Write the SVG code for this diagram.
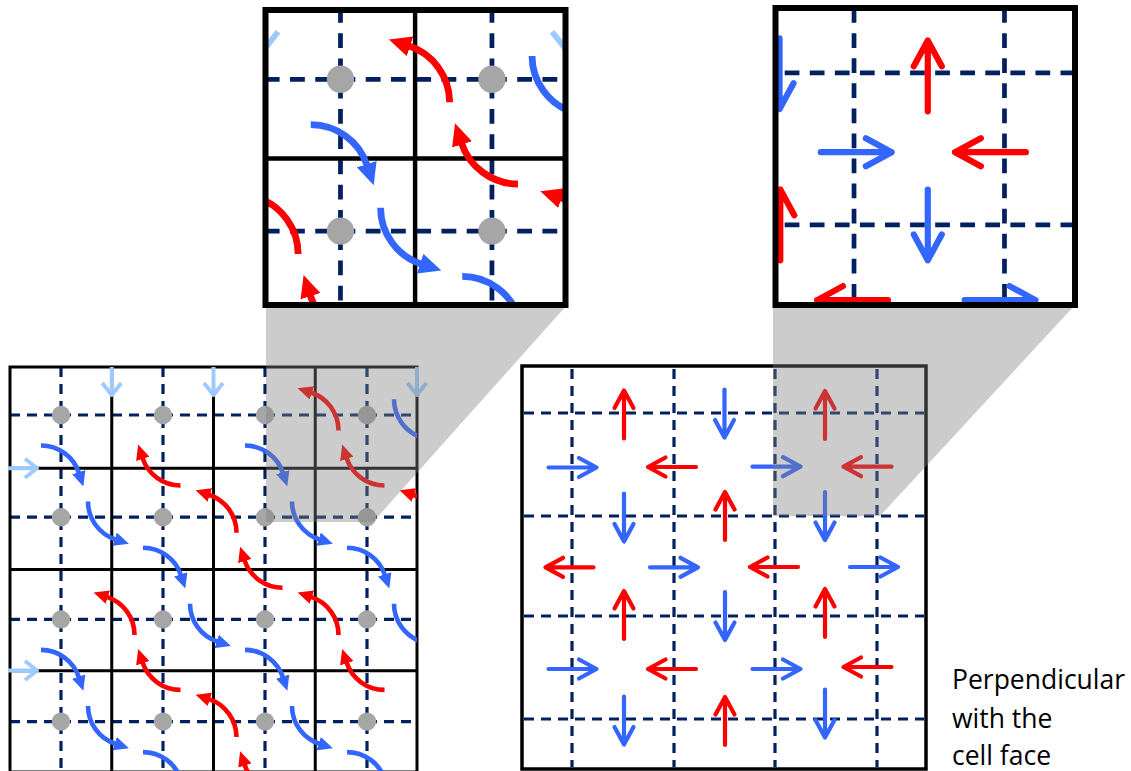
<svg xmlns="http://www.w3.org/2000/svg" xmlns:xlink="http://www.w3.org/1999/xlink" width="1131" height="771" viewBox="0 0 1131 771">
<style>
.solid{stroke:#000;stroke-width:3;fill:none}
.dash{stroke:#002060;stroke-width:3.2;stroke-dasharray:10 7;fill:none}
.rdash{stroke:#002060;stroke-width:3.2;stroke-dasharray:10 7;fill:none}
.dot{fill:#A6A6A6}
.arcB{fill:none;stroke:#3366FF;stroke-width:4.6;marker-end:url(#hb)}
.arcR{fill:none;stroke:#FF0000;stroke-width:4.6;marker-end:url(#hr)}
.lb{fill:none;stroke:#9DCBFF;stroke-width:4;stroke-linejoin:round}
.r{stroke:#FF0000}
.b{stroke:#3366FF}
.shade{fill:#808080;fill-opacity:0.4}
.frame{fill:none;stroke:#000;stroke-width:6}
.lbl{font-family:"Open Sans","Noto Sans",sans-serif;font-size:26.5px;fill:#000}
</style>
<defs>
<marker id="hb" markerUnits="userSpaceOnUse" markerWidth="15" markerHeight="14" viewBox="0 0 15 14" refX="1" refY="7" orient="auto"><path d="M0,0 L15,7 L0,14 Z" fill="#3366FF"/></marker>
<marker id="hr" markerUnits="userSpaceOnUse" markerWidth="15" markerHeight="14" viewBox="0 0 15 14" refX="1" refY="7" orient="auto"><path d="M0,0 L15,7 L0,14 Z" fill="#FF0000"/></marker>
<path id="arr" d="M-24,0 H24 M6.5,-9.5 L24,0 L6.5,9.5" fill="none" stroke-width="4.2" stroke-linecap="round" stroke-linejoin="round"/>
<clipPath id="clipLG"><rect x="10" y="367" width="407" height="410"/></clipPath>
<clipPath id="clipLI"><rect x="265.5" y="10" width="300" height="295"/></clipPath>
<clipPath id="clipRI"><rect x="775.5" y="8" width="299.5" height="297"/></clipPath>
</defs>
<rect width="1131" height="771" fill="#fff"/>

<g id="left-grid">
  <g id="left-dashed" class="dash">
    <path d="M61,367V773M163,367V773M265,367V773M367,367V773"/>
    <path d="M10,415H417M10,517.2H417M10,619.4H417M10,721.6H417"/>
  </g>
  <g id="left-solid" class="solid">
    <rect x="10" y="367" width="407" height="405"/>
    <path d="M111.75,367V772M213.5,367V772M315.25,367V772M10,468.3H417M10,569.5H417M10,670.7H417"/>
  </g>
  <g id="left-dots" class="dot">
    <circle cx="61" cy="415" r="9.2"/><circle cx="163" cy="415" r="9.2"/><circle cx="265" cy="415" r="9.2"/><circle cx="367" cy="415" r="9.2"/>
    <circle cx="61" cy="517.2" r="9.2"/><circle cx="163" cy="517.2" r="9.2"/><circle cx="265" cy="517.2" r="9.2"/><circle cx="367" cy="517.2" r="9.2"/>
    <circle cx="61" cy="619.4" r="9.2"/><circle cx="163" cy="619.4" r="9.2"/><circle cx="265" cy="619.4" r="9.2"/><circle cx="367" cy="619.4" r="9.2"/>
    <circle cx="61" cy="721.6" r="9.2"/><circle cx="163" cy="721.6" r="9.2"/><circle cx="265" cy="721.6" r="9.2"/><circle cx="367" cy="721.6" r="9.2"/>
  </g>
  <g id="left-boundary-arrows" class="lb">
    <path d="M111.75,367V395M102.25,383L111.75,395L121.25,383"/>
    <path d="M213.5,367V395M204,383L213.5,395L223,383"/>
    <path d="M417,367V395M407.5,383L417,395L426.5,383"/>
    <path d="M8,468.3H37M25,458.8L37,468.3L25,477.8"/>
    <path d="M8,670.5H37M25,661L37,670.5L25,680"/>
  </g>
  <g id="left-arcs" clip-path="url(#clipLG)">
    <path class="arcB" d="M41,445.5a40,40 0 0 1 38,27.6"/>
    <path class="arcB" d="M143,547.7a40,40 0 0 1 38,27.6"/>
    <path class="arcB" d="M245,649.9a40,40 0 0 1 38,27.6"/>
    <path class="arcB" d="M347,752.1a40,40 0 0 1 38,27.6"/>
    <path class="arcB" d="M41,649.9a40,40 0 0 1 38,27.6"/>
    <path class="arcB" d="M143,752.1a40,40 0 0 1 38,27.6"/>
    <path class="arcB" d="M245,445.5a40,40 0 0 1 38,27.6"/>
    <path class="arcB" d="M347,547.7a40,40 0 0 1 38,27.6"/>
    <path class="arcB" d="M88,501.5a40,40 0 0 0 27.6,38"/>
    <path class="arcB" d="M190,603.7a40,40 0 0 0 27.6,38"/>
    <path class="arcB" d="M292,705.9a40,40 0 0 0 27.6,38"/>
    <path class="arcB" d="M88,705.9a40,40 0 0 0 27.6,38"/>
    <path class="arcB" d="M292,501.5a40,40 0 0 0 27.6,38"/>
    <path class="arcB" d="M394,603.7a40,40 0 0 0 27.6,38"/>
    <path class="arcB" d="M394,399.3a40,40 0 0 0 27.6,38"/>
    <path class="arcR" d="M180.5,485.5a40,40 0 0 1 -38,-27.6"/>
    <path class="arcR" d="M384.5,485.5a40,40 0 0 1 -38,-27.6"/>
    <path class="arcR" d="M282.5,587.7a40,40 0 0 1 -38,-27.6"/>
    <path class="arcR" d="M180.5,689.9a40,40 0 0 1 -38,-27.6"/>
    <path class="arcR" d="M384.5,689.9a40,40 0 0 1 -38,-27.6"/>
    <path class="arcR" d="M282.5,792.1a40,40 0 0 1 -38,-27.6"/>
    <path class="arcR" d="M338.5,430.5a40,40 0 0 0 -27.6,-38"/>
    <path class="arcR" d="M236.5,532.7a40,40 0 0 0 -27.6,-38"/>
    <path class="arcR" d="M134.5,634.9a40,40 0 0 0 -27.6,-38"/>
    <path class="arcR" d="M338.5,634.9a40,40 0 0 0 -27.6,-38"/>
    <path class="arcR" d="M236.5,737.1a40,40 0 0 0 -27.6,-38"/>
    <path class="arcR" d="M440.5,532.7a40,40 0 0 0 -27.6,-38"/>
  </g>
</g>

<g id="right-grid">
  <g id="right-dashed" class="rdash">
    <path d="M572,369V767M674,369V767M775,369V767M877,369V767"/>
    <path d="M524,413H924M524,516H924M524,616H924M524,719H924"/>
  </g>
  <rect id="right-frame" x="522" y="366" width="404" height="403" fill="none" stroke="#000" stroke-width="3.5"/>
  <g id="right-arrows">
    <use xlink:href="#arr" class="r" transform="translate(624,414.5) rotate(-90)"/>
    <use xlink:href="#arr" class="b" transform="translate(724.5,413.5) rotate(90)"/>
    <use xlink:href="#arr" class="r" transform="translate(825,415) rotate(-90)"/>
    <use xlink:href="#arr" class="b" transform="translate(572.5,467.5)"/>
    <use xlink:href="#arr" class="r" transform="translate(672,467) rotate(180)"/>
    <use xlink:href="#arr" class="b" transform="translate(776.5,466.7)"/>
    <use xlink:href="#arr" class="r" transform="translate(867.5,466.7) rotate(180)"/>
    <use xlink:href="#arr" class="b" transform="translate(624,517.5) rotate(90)"/>
    <use xlink:href="#arr" class="r" transform="translate(725,516) rotate(-90)"/>
    <use xlink:href="#arr" class="b" transform="translate(825,516) rotate(90)"/>
    <use xlink:href="#arr" class="r" transform="translate(569.5,567.3) rotate(180)"/>
    <use xlink:href="#arr" class="b" transform="translate(674,567.3)"/>
    <use xlink:href="#arr" class="r" transform="translate(774,567) rotate(180)"/>
    <use xlink:href="#arr" class="b" transform="translate(874,567)"/>
    <use xlink:href="#arr" class="r" transform="translate(624,615) rotate(-90)"/>
    <use xlink:href="#arr" class="b" transform="translate(725,616) rotate(90)"/>
    <use xlink:href="#arr" class="r" transform="translate(825,613) rotate(-90)"/>
    <use xlink:href="#arr" class="b" transform="translate(572.5,669)"/>
    <use xlink:href="#arr" class="r" transform="translate(672,669) rotate(180)"/>
    <use xlink:href="#arr" class="b" transform="translate(776.5,669)"/>
    <use xlink:href="#arr" class="r" transform="translate(867.5,667) rotate(180)"/>
    <use xlink:href="#arr" class="b" transform="translate(624,720.5) rotate(90)"/>
    <use xlink:href="#arr" class="r" transform="translate(725,721) rotate(-90)"/>
    <use xlink:href="#arr" class="b" transform="translate(825,713.5) rotate(90)"/>
  </g>
</g>

<g id="zoom-shading">
  <polygon class="shade" points="266,305 567,305 373,522 266,522"/>
  <polygon class="shade" points="773,305 1075,305 880,516 773,516"/>
</g>

<g id="left-inset">
  <g clip-path="url(#clipLI)">
    <rect x="265.5" y="10" width="300" height="295" fill="#fff"/>
    <use xlink:href="#left-grid" transform="translate(-53.05,-537) scale(1.485)"/>
  </g>
  <rect class="frame" x="265.5" y="10" width="300" height="295"/>
</g>

<g id="right-inset">
  <g clip-path="url(#clipRI)">
    <rect x="775.5" y="8" width="299.5" height="297" fill="#fff"/>
    <use xlink:href="#right-grid" transform="translate(-289.1,-536.2) scale(1.475)"/>
  </g>
  <rect class="frame" x="775.5" y="8" width="299.5" height="297"/>
</g>

<g id="label" class="lbl">
  <text x="952" y="689">Perpendicular</text>
  <text x="952" y="727.5">with the</text>
  <text x="952" y="765">cell face</text>
</g>
</svg>
